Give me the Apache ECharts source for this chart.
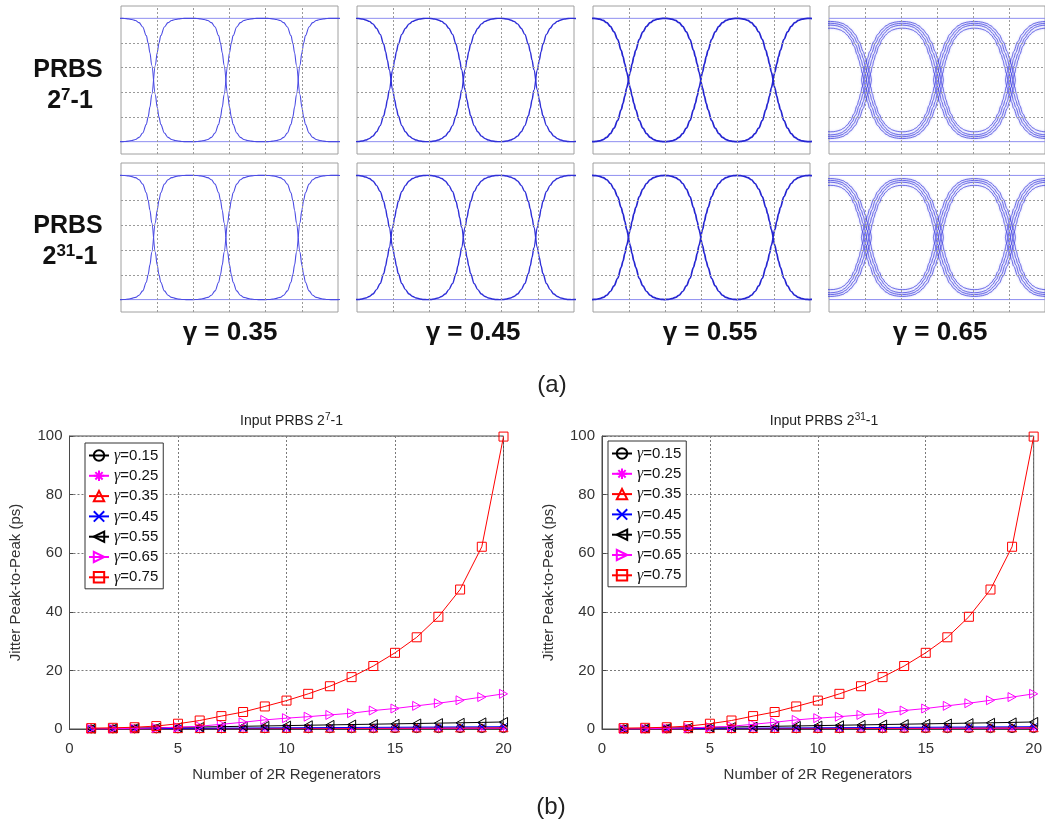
<!DOCTYPE html>
<html>
<head>
<meta charset="utf-8">
<title>Eye diagrams and jitter accumulation</title>
<script src="https://cdn.jsdelivr.net/npm/echarts@6/dist/echarts.min.js"></script>
<style>
  html, body { margin: 0; padding: 0; background: #fff; }
  #main { width: 1045px; height: 825px; }
</style>
</head>
<body>
<div id="main"></div>
<script>
// ---------- (a) eye diagrams ----------
const eyeGammaLabels = ['γ = 0.35', 'γ = 0.45', 'γ = 0.55', 'γ = 0.65'];
const eyeRowNames = [['2', '7', '-1'], ['2', '31', '-1']];
const eyeFirstCrossing = [0.45, 0.47, 0.49, 0.52];      // unit intervals
const eyeXTicks = [0.5, 1, 1.5, 2, 2.5];
const eyeYTicks = [0.2, 0.4, 0.6, 0.8];
const eyeLevels = [0, 1];
// offset from a crossing (UI) at which each arc sample is taken
const arcOffsets = [0, 0.025, 0.05, 0.075, 0.1, 0.15, 0.2, 0.25, 0.3, 0.35, 0.4, 0.45, 0.5];
// upper arc levels (normalised) for each regenerator setting
const arcG035 = [0.5, 0.62, 0.72, 0.80, 0.86, 0.93, 0.965, 0.982, 0.99, 0.996, 0.999, 1.0, 1.0];
const arcG045 = [0.5, 0.585, 0.66, 0.73, 0.79, 0.87, 0.92, 0.955, 0.975, 0.987, 0.995, 0.999, 1.0];
const arcG055 = [0.5, 0.565, 0.63, 0.69, 0.74, 0.83, 0.89, 0.935, 0.965, 0.983, 0.993, 0.998, 1.0];
const arcG065 = [
  [0.5, 0.565, 0.625, 0.68, 0.73, 0.81, 0.87, 0.91, 0.94, 0.958, 0.968, 0.973, 0.975],
  [0.5, 0.56, 0.62, 0.675, 0.72, 0.80, 0.855, 0.895, 0.925, 0.943, 0.953, 0.958, 0.96],
  [0.5, 0.56, 0.615, 0.665, 0.71, 0.785, 0.84, 0.88, 0.91, 0.928, 0.938, 0.943, 0.945],
  [0.5, 0.555, 0.61, 0.66, 0.705, 0.775, 0.83, 0.865, 0.89, 0.905, 0.914, 0.919, 0.92]
];
const arcG065Shift = [-0.07, -0.035, 0, 0.035];   // crossing jitter of each trace (UI)

// ---------- (b) jitter versus number of regenerators ----------
const regenCount = [1, 2, 3, 4, 5, 6, 7, 8, 9, 10, 11, 12, 13, 14, 15, 16, 17, 18, 19, 20];
const seriesNames = ['γ=0.15', 'γ=0.25', 'γ=0.35', 'γ=0.45', 'γ=0.55', 'γ=0.65', 'γ=0.75'];
const jitterG015 = [0.03, 0.04, 0.04, 0.05, 0.05, 0.06, 0.06, 0.07, 0.07, 0.08, 0.08, 0.09, 0.09, 0.10, 0.10, 0.11, 0.11, 0.12, 0.12, 0.13];
const jitterG025 = [0.05, 0.06, 0.07, 0.08, 0.09, 0.10, 0.11, 0.12, 0.13, 0.14, 0.15, 0.16, 0.17, 0.18, 0.19, 0.20, 0.21, 0.22, 0.23, 0.24];
const jitterG035 = [0.06, 0.08, 0.10, 0.12, 0.14, 0.16, 0.18, 0.20, 0.22, 0.24, 0.26, 0.28, 0.30, 0.32, 0.34, 0.36, 0.38, 0.40, 0.42, 0.44];
const jitterG045 = [0.05, 0.09, 0.13, 0.17, 0.21, 0.25, 0.29, 0.33, 0.37, 0.41, 0.45, 0.48, 0.52, 0.56, 0.60, 0.64, 0.67, 0.71, 0.75, 0.79];
const jitterG055 = [0.10, 0.20, 0.32, 0.44, 0.56, 0.68, 0.80, 0.92, 1.04, 1.16, 1.28, 1.40, 1.52, 1.64, 1.76, 1.88, 2.00, 2.12, 2.25, 2.40];
const jitterG065 = [0.05, 0.12, 0.22, 0.35, 0.60, 0.95, 1.6, 2.3, 3.1, 3.7, 4.2, 4.8, 5.4, 6.3, 7.0, 7.9, 8.8, 9.8, 10.9, 12.0];
const jitterG075 = [0.3, 0.4, 0.6, 1.0, 1.8, 2.9, 4.4, 5.8, 7.7, 9.7, 12.0, 14.6, 17.7, 21.5, 26.0, 31.3, 38.3, 47.6, 62.2, 99.8];
const chartTitles = ['7', '31'];
const jitterXTicks = { min: 0, max: 20, step: 5 };
const jitterYTicks = { min: 0, max: 100, step: 20 };

const SANS = 'Liberation Sans, Arial, Helvetica, sans-serif';
const SERIF = 'Liberation Serif, Times New Roman, serif';

const chart = echarts.init(document.getElementById('main'), null, { renderer: 'canvas' });

const grids = [], xAxes = [], yAxes = [], series = [], graphics = [];

// trace style for each eye column
const eyeTraceStyle = [
  { color: '#4c4ce4', width: 1.1 },
  { color: '#3030d8', width: 1.4 },
  { color: '#2626d2', width: 1.7 },
  { color: '#3a3ade', width: 1.0, opacity: 0.7, shadowBlur: 2, shadowColor: 'rgba(90,90,235,0.6)' }
];

function arcPoints(arc, a, b) {
  // upper and lower arcs spanning one bit slot between crossings a and b
  const half = (b - a) / 2;
  const up = [], lo = [];
  arcOffsets.forEach((u, i) => {
    const x = a + (u / 0.5) * half;
    up.push([x, arc[i]]); lo.push([x, 1 - arc[i]]);
  });
  for (let i = arcOffsets.length - 2; i >= 0; i--) {
    const x = b - (arcOffsets[i] / 0.5) * half;
    up.push([x, arc[i]]); lo.push([x, 1 - arc[i]]);
  }
  return [up, lo];
}

for (let r = 0; r < 2; r++) {
  for (let p = 0; p < 4; p++) {
    const gi = r * 4 + p;
    grids.push({
      left: 121 + 236 * p, top: r ? 163 : 6, width: 217, height: r ? 149 : 148,
      show: true, borderColor: '#a0a0a0', borderWidth: 1, backgroundColor: '#fff'
    });
    xAxes.push({ gridIndex: gi, type: 'value', min: 0, max: 3, show: false });
    yAxes.push({ gridIndex: gi, type: 'value', min: -0.1, max: 1.1, show: false });

    // steady "0" and "1" levels, carrying the dotted graticule
    eyeLevels.forEach((lvl, li) => {
      series.push({
        type: 'line', xAxisIndex: gi, yAxisIndex: gi, z: 2,
        data: [[0, lvl], [3, lvl]], symbol: 'none', silent: true,
        lineStyle: { color: '#8e8ef0', width: 1 },
        markLine: li === 0 ? {
          silent: true, symbol: ['none', 'none'], label: { show: false },
          lineStyle: { color: '#9a9a9a', width: 1, type: [2, 2] },
          data: eyeXTicks.map(v => ({ xAxis: v })).concat(eyeYTicks.map(v => ({ yAxis: v })))
        } : undefined
      });
    });

    const arcs = p === 0 ? [arcG035] : p === 1 ? [arcG045] : p === 2 ? [arcG055] : arcG065;
    const shifts = p === 3 ? arcG065Shift : [0];
    const st = eyeTraceStyle[p];
    arcs.forEach((arc, ai) => {
      const s = shifts[ai];
      for (let k = -1; k <= 2; k++) {
        const a = eyeFirstCrossing[p] + k + s;
        const b = eyeFirstCrossing[p] + k + 1 - s;
        arcPoints(arc, a, b).forEach(pts => {
          series.push({
            type: 'line', xAxisIndex: gi, yAxisIndex: gi, z: 3,
            data: pts, symbol: 'none', smooth: 0.35, smoothMonotone: 'x', silent: true,
            lineStyle: Object.assign({}, st)
          });
        });
      }
    });
  }
}

// row labels
const rowCenters = [[70, 101], [226, 257]];
eyeRowNames.forEach((nm, r) => {
  graphics.push({
    type: 'text', x: 68, y: rowCenters[r][0], silent: true,
    style: { text: 'PRBS', font: 'bold 25px ' + SANS, fill: '#111', align: 'center', verticalAlign: 'middle' }
  });
  graphics.push({
    type: 'text', x: 70, y: rowCenters[r][1], silent: true,
    style: {
      text: nm[0] + '{s|' + nm[1] + '}' + nm[2],
      font: 'bold 25px ' + SANS, fill: '#111', align: 'center', verticalAlign: 'middle', lineHeight: 28,
      rich: { s: { font: 'bold 17px ' + SANS, fill: '#111', verticalAlign: 'top', lineHeight: 12 } }
    }
  });
});
// gamma labels under the columns
const gammaCenters = [230, 473, 710, 940];
eyeGammaLabels.forEach((t, p) => {
  graphics.push({
    type: 'text', x: gammaCenters[p], y: 333, silent: true,
    style: { text: t, font: 'bold 26px ' + SANS, fill: '#111', align: 'center', verticalAlign: 'middle' }
  });
});
graphics.push({ type: 'text', x: 552, y: 385, silent: true,
  style: { text: '(a)', font: '24px ' + SANS, fill: '#222', align: 'center', verticalAlign: 'middle' } });
graphics.push({ type: 'text', x: 551, y: 807, silent: true,
  style: { text: '(b)', font: '24px ' + SANS, fill: '#222', align: 'center', verticalAlign: 'middle' } });

// ---------- (b) line charts ----------
const SYM = {
  circle: 'path://M0,5A5,5,0,1,1,10,5A5,5,0,1,1,0,5Z',
  star: 'path://M5,0L5,10M0,5L10,5M1.5,1.5L8.5,8.5M8.5,1.5L1.5,8.5',
  triUp: 'path://M5,0L10,9L0,9Z',
  cross: 'path://M0,0L10,10M10,0L0,10',
  triLeft: 'path://M0,5L9,0L9,10Z',
  triRight: 'path://M9,5L0,0L0,10Z',
  square: 'path://M0,0L10,0L10,10L0,10Z'
};
const jitterSets = [jitterG015, jitterG025, jitterG035, jitterG045, jitterG055, jitterG065, jitterG075];
const jitterLook = [
  { c: '#000000', s: SYM.circle, size: 8 },
  { c: '#ff00ff', s: SYM.star, size: 8 },
  { c: '#ff0000', s: SYM.triUp, size: 9 },
  { c: '#0000ff', s: SYM.cross, size: 7 },
  { c: '#000000', s: SYM.triLeft, size: 9 },
  { c: '#ff00ff', s: SYM.triRight, size: 9 },
  { c: '#ff0000', s: SYM.square, size: 9 }
];
const plotLefts = [69.5, 602];
const plotRights = [541.5, 9.3];
const titleCenters = [286.5, 819];
const legendPos = [[85, 443], [608, 441]];
const titles = [];
const legends = [];

for (let c = 0; c < 2; c++) {
  const gi = 8 + c;
  grids.push({ left: plotLefts[c], right: plotRights[c], top: 436, bottom: 96,
    show: true, borderColor: '#4a4a4a', borderWidth: 1, backgroundColor: '#fff' });
  xAxes.push({
    gridIndex: gi, type: 'value', min: jitterXTicks.min, max: jitterXTicks.max, interval: jitterXTicks.step,
    name: 'Number of 2R Regenerators', nameLocation: 'middle', nameGap: 38,
    nameTextStyle: { fontFamily: SANS, fontSize: 15, color: '#333' },
    axisLine: { show: true, lineStyle: { color: '#4a4a4a', width: 1 } },
    axisTick: { show: true, inside: true, length: 4, lineStyle: { color: '#4a4a4a' } },
    axisLabel: { fontFamily: SANS, fontSize: 15, color: '#333', margin: 12 },
    splitLine: { show: true, lineStyle: { color: '#7a7a7a', width: 1, type: [2, 2] } }
  });
  yAxes.push({
    gridIndex: gi, type: 'value', min: jitterYTicks.min, max: jitterYTicks.max, interval: jitterYTicks.step,
    name: 'Jitter Peak-to-Peak (ps)', nameLocation: 'middle', nameGap: 46, nameRotate: 90,
    nameTextStyle: { fontFamily: SANS, fontSize: 15, color: '#333' },
    axisLine: { show: true, lineStyle: { color: '#4a4a4a', width: 1 } },
    axisTick: { show: true, inside: true, length: 4, lineStyle: { color: '#4a4a4a' } },
    axisLabel: { fontFamily: SANS, fontSize: 15, color: '#333', margin: 7 },
    splitLine: { show: true, lineStyle: { color: '#7a7a7a', width: 1, type: [2, 2] } }
  });
  titles.push({
    text: 'Input PRBS 2{s|' + chartTitles[c] + '}-1',
    left: titleCenters[c], top: 407, textAlign: 'center',
    textStyle: {
      fontFamily: SANS, fontSize: 14, fontWeight: 'normal', color: '#222', lineHeight: 18,
      rich: { s: { fontFamily: SANS, fontSize: 10, color: '#222', verticalAlign: 'top', lineHeight: 10 } }
    }
  });
  jitterSets.forEach((vals, si) => {
    const lk = jitterLook[si];
    series.push({
      type: 'line', name: seriesNames[si], xAxisIndex: gi, yAxisIndex: gi, z: 5 + si,
      data: regenCount.map((n, i) => [n, vals[i]]),
      symbol: lk.s, symbolSize: lk.size, symbolKeepAspect: true, showSymbol: true,
      itemStyle: { color: 'rgba(0,0,0,0)', borderColor: lk.c, borderWidth: 1 },
      lineStyle: { color: lk.c, width: 1 },
      emphasis: { disabled: true }
    });
  });
  legends.push({
    orient: 'vertical', left: legendPos[c][0], top: legendPos[c][1],
    data: seriesNames, selectedMode: false,
    backgroundColor: '#fff', borderColor: '#333', borderWidth: 1,
    padding: [4, 5, 3, 3], itemGap: 3.3, itemWidth: 20, itemHeight: 13,
    formatter: name => '{g|γ}{n|' + name.replace('γ', '') + '}',
    textStyle: {
      color: '#111', lineHeight: 17,
      rich: {
        g: { fontFamily: SERIF, fontStyle: 'italic', fontSize: 16, color: '#111', lineHeight: 17 },
        n: { fontFamily: SANS, fontSize: 15, color: '#111', lineHeight: 17 }
      }
    }
  });
}

chart.setOption({
  animation: false,
  backgroundColor: '#fff',
  title: titles,
  legend: legends,
  grid: grids,
  xAxis: xAxes,
  yAxis: yAxes,
  series: series,
  graphic: graphics
});
</script>
</body>
</html>
